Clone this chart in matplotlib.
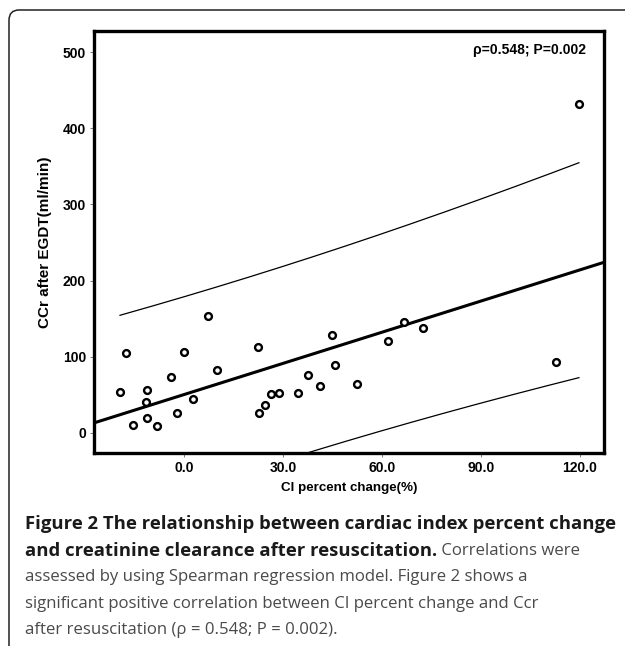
import matplotlib
matplotlib.use("Agg")
import matplotlib.pyplot as plt
import numpy as np
from matplotlib.patches import FancyBboxPatch

# CI percent change (%) vs CCr after EGDT (ml/min)
ci_change = [-19.5, -17.7, -15.7, -11.4, -11.6, -11.3, -8.2, -4.0, -2.1, 0.0,
             2.5, 7.3, 9.8, 22.3, 22.7, 24.4, 26.4, 28.8, 34.6, 37.4,
             41.1, 44.9, 45.6, 52.5, 61.9, 66.5, 72.5, 112.8, 119.7]
ccr = [53.9, 104.7, 9.7, 55.7, 40.7, 18.9, 8.8, 73.6, 25.9, 105.6,
       44.7, 153.4, 82.0, 112.6, 25.5, 36.8, 50.5, 52.6, 52.6, 75.8,
       61.8, 128.8, 89.0, 64.4, 120.5, 145.1, 137.6, 92.9, 432.0]

x_ticks = [0, 30, 60, 90, 120]
y_ticks = [0, 100, 200, 300, 400, 500]
stat_text = "ρ=0.548; P=0.002"
T_975 = 2.052  # t quantile, df = n - 2

x = np.array(ci_change)
y = np.array(ccr)
n = len(x)
slope, intercept = np.polyfit(x, y, 1)
resid = y - (intercept + slope * x)
s = np.sqrt(np.sum(resid ** 2) / (n - 2))
sxx = np.sum((x - x.mean()) ** 2)
xs = np.linspace(x.min(), x.max(), 200)
half = T_975 * s * np.sqrt(1 + 1 / n + (xs - x.mean()) ** 2 / sxx)
fit = intercept + slope * xs

fig = plt.figure(figsize=(6.25, 6.46), dpi=100)
fig.set_facecolor("white")

# rounded frame round the figure panel
frame = FancyBboxPatch((9 / 625, -0.2), 1.2, 1.2 - 10 / 646,
                       boxstyle="round,pad=0,rounding_size=0.016",
                       transform=fig.transFigure, fill=False,
                       ec="#222222", lw=1.1, clip_on=False)
fig.add_artist(frame)

ax = fig.add_axes([94.3 / 625, 1 - 452.7 / 646, (604 - 94.3) / 625, (452.7 - 31) / 646])
ax.set_xlim(-27.3, 127.3)
ax.set_ylim(-26.3, 528)

ax.plot(xs, fit + half, color="black", lw=0.9)
ax.plot(xs, fit - half, color="black", lw=0.9)
ax.axline((0, intercept), slope=slope, color="black", lw=2.2)
ax.scatter(x, y, s=24, facecolor="white", edgecolor="black", linewidths=1.7, zorder=3)

for sp in ax.spines.values():
    sp.set_linewidth(2.4)

font = "Liberation Sans"
ax.set_xticks(x_ticks)
ax.set_xticklabels([f"{v:.1f}" for v in x_ticks], fontfamily=font, fontweight="bold", fontsize=10)
ax.set_yticks(y_ticks)
ax.set_yticklabels([str(v) for v in y_ticks], fontfamily=font, fontweight="bold", fontsize=10)
ax.tick_params(length=3, width=0.6, color="#666666", pad=3)

ax.set_xlabel("Cl percent change(%)", fontfamily=font, fontweight="bold", fontsize=9.6, labelpad=5)
ax.set_ylabel("CCr after EGDT(ml/min)", fontfamily=font, fontweight="bold", fontsize=11, labelpad=8)

ax.text(0.965, 0.955, stat_text, transform=ax.transAxes, ha="right", va="center",
        fontfamily=font, fontweight="bold", fontsize=10)

# caption
cap = "Open Sans"
sizes = {"bold": 13.3, "normal": 12.1}
colors = {"bold": "#1a1a1a", "normal": "#4a4a4a"}
rows = [
    [("Figure 2 The relationship between cardiac index percent change", "bold")],
    [("and creatinine clearance after resuscitation.", "bold"), (" Correlations were", "normal")],
    [("assessed by using Spearman regression model. Figure 2 shows a", "normal")],
    [("significant positive correlation between CI percent change and Ccr", "normal")],
    [("after resuscitation (ρ = 0.548; P = 0.002).", "normal")],
]
row_y = [524, 551, 577, 604, 630]
fig.canvas.draw()
renderer = fig.canvas.get_renderer()
for parts, yy in zip(rows, row_y):
    x0 = 25 / 625
    for txt, wt in parts:
        t = fig.text(x0, 1 - yy / 646, txt, fontfamily=cap, fontweight=wt,
                     fontsize=sizes[wt], color=colors[wt], va="center", ha="left")
        bb = t.get_window_extent(renderer)
        x0 = bb.x1 / fig.bbox.width

fig.savefig("out.png", dpi=100)
